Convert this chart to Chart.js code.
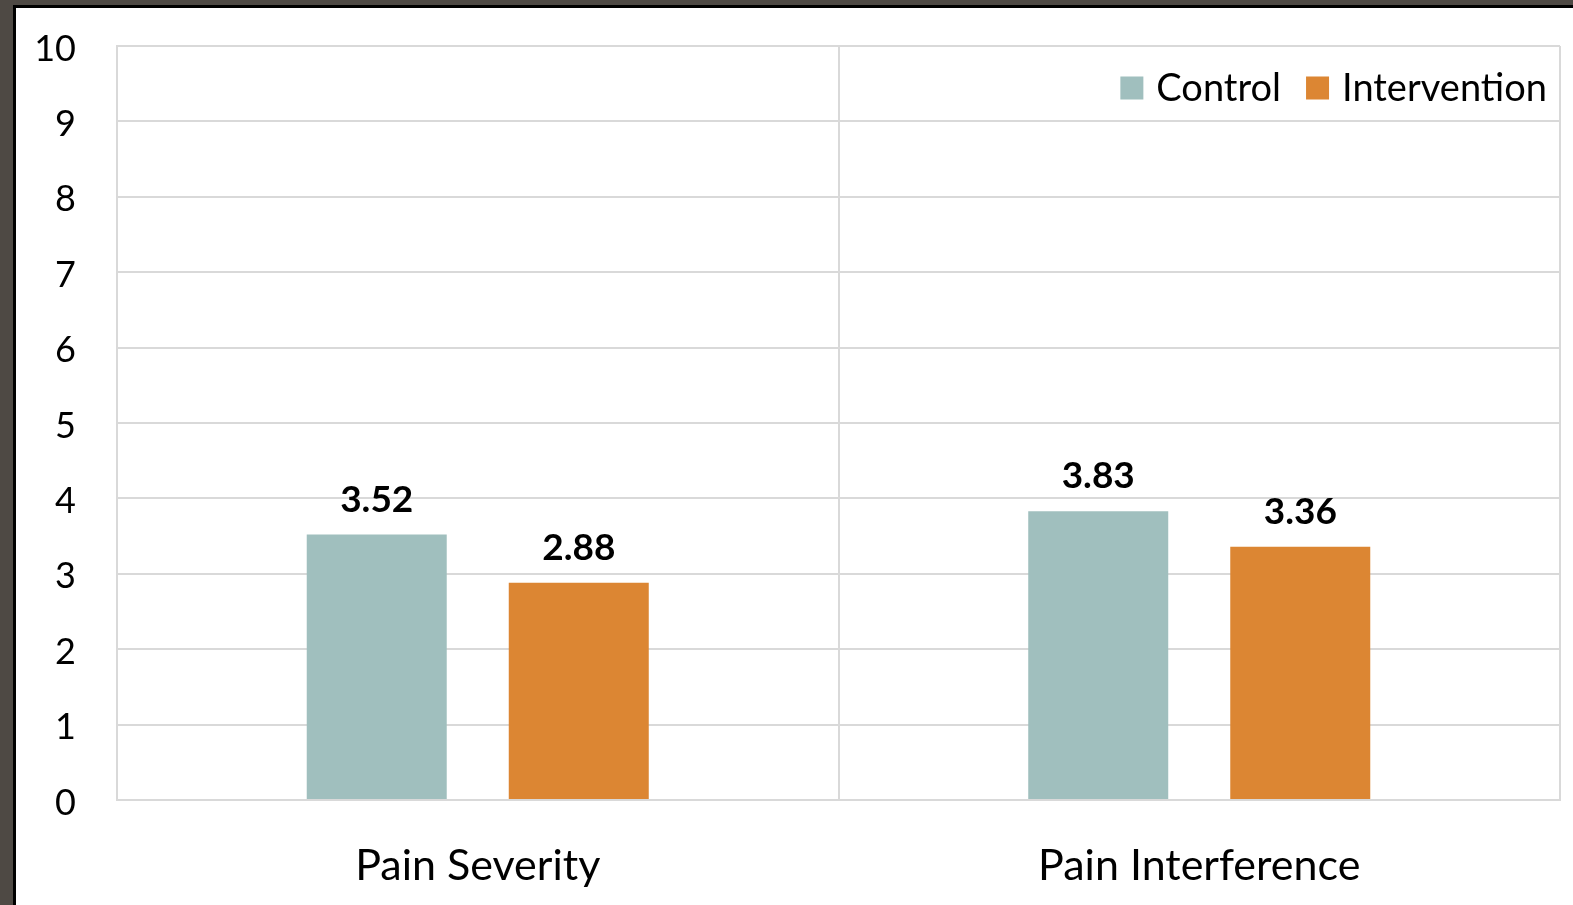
<!DOCTYPE html>
<html>
<head>
<meta charset="utf-8">
<script src="https://cdn.jsdelivr.net/npm/chart.js@4.4.1/dist/chart.umd.min.js"></script>
<style>
  html, body { margin: 0; padding: 0; background: #4e4944; width: 1573px; height: 905px; overflow: hidden; }
  #frame { position: absolute; left: 13px; top: 5px; width: 1557px; height: 897px; border-left: 3px solid #000; border-top: 3px solid #000; background: #fff; }
  #wrap { position: absolute; left: 0; top: 0; width: 1557px; height: 897px; }
</style>
</head>
<body>
<div id="frame"><div id="wrap"><canvas id="c"></canvas></div></div>
<script>
const categories = ["Pain Severity", "Pain Interference"];
const seriesNames = ["Control", "Intervention"];
const controlValues = [3.52, 3.83];
const interventionValues = [2.88, 3.36];
const yTicks = [0, 1, 2, 3, 4, 5, 6, 7, 8, 9, 10];
const colors = ["#a0bfbe", "#dc8633"];
const FONT = "Lato, 'Open Sans', sans-serif";

const valueLabels = {
  id: 'valueLabels',
  afterDatasetsDraw(chart) {
    const ctx = chart.ctx;
    ctx.save();
    ctx.font = "bold 37px " + FONT;
    ctx.fillStyle = "#000";
    ctx.textAlign = "center";
    ctx.textBaseline = "alphabetic";
    chart.data.datasets.forEach((ds, i) => {
      const meta = chart.getDatasetMeta(i);
      meta.data.forEach((bar, j) => {
        ctx.fillText(ds.data[j].toFixed(2), bar.x, bar.y - 23);
      });
    });
    ctx.restore();
  }
};

const insideLegend = {
  id: 'insideLegend',
  afterDraw(chart) {
    const ctx = chart.ctx;
    const area = chart.chartArea;
    ctx.save();
    ctx.font = "38px " + FONT;
    ctx.textBaseline = "middle";
    ctx.textAlign = "left";
    const box = 23, gapBox = 13, gapItem = 25;
    let x = area.right - 13;
    const cy = area.top + 42;
    const ds = chart.data.datasets;
    for (let i = ds.length - 1; i >= 0; i--) {
      const w = ctx.measureText(ds[i].label).width;
      x -= w;
      ctx.fillStyle = "#000";
      ctx.fillText(ds[i].label, x, cy + 1);
      x -= gapBox + box;
      ctx.fillStyle = ds[i].backgroundColor;
      ctx.fillRect(x, cy - box / 2, box, box);
      x -= gapItem;
    }
    ctx.restore();
  }
};

new Chart(document.getElementById('c'), {
  type: 'bar',
  data: {
    labels: categories,
    datasets: [
      { label: seriesNames[0], data: controlValues, backgroundColor: colors[0] },
      { label: seriesNames[1], data: interventionValues, backgroundColor: colors[1] }
    ]
  },
  options: {
    responsive: true,
    maintainAspectRatio: false,
    animation: false,
    layout: { padding: { top: 38, right: 13, left: 0, bottom: 0 } },
    categoryPercentage: 0.56,
    barPercentage: 0.693,
    plugins: { legend: { display: false }, tooltip: { enabled: false } },
    scales: {
      x: {
        grid: { color: "#d9d9d9", lineWidth: 2, drawTicks: false, offset: true },
        border: { color: "#d9d9d9", width: 2 },
        ticks: { color: "#000", font: { family: FONT, size: 43 }, padding: 40 },
        afterFit(scale) { scale.height = 105; }
      },
      y: {
        min: 0, max: 10,
        afterBuildTicks(scale) { scale.ticks = yTicks.map(v => ({ value: v })); },
        grid: { color: "#d9d9d9", lineWidth: 2, drawTicks: true, tickLength: 41, tickColor: "rgba(0,0,0,0)" },
        border: { color: "#d9d9d9", width: 2 },
        ticks: { color: "#000", font: { family: FONT, size: 36 }, padding: 0, labelOffset: 3 },
        afterFit(scale) { scale.width = 101; }
      }
    }
  },
  plugins: [valueLabels, insideLegend]
});
</script>
</body>
</html>
